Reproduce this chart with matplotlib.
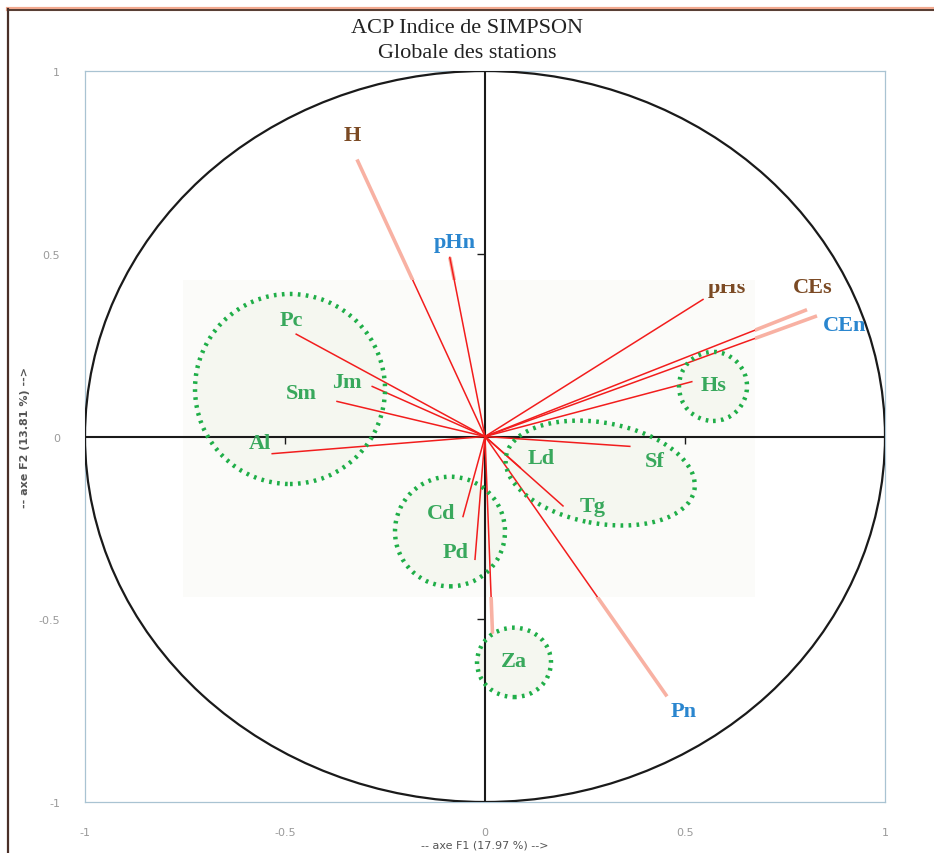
import matplotlib
matplotlib.use("Agg")
import numpy as np
from matplotlib import pyplot as plt
from matplotlib.patches import Ellipse, Rectangle
from matplotlib.lines import Line2D
from matplotlib.transforms import Bbox, TransformedBbox

# correlations of the variables with the first two factors
variables = ["H", "pHn", "pHs", "CEs", "CEn", "Hs", "Pc", "Jm", "Sm", "Al",
             "Ld", "Sf", "Tg", "Cd", "Pd", "Za", "Pn"]
f1 = [-0.32, -0.088, 0.545, 0.805, 0.83, 0.517, -0.472, -0.282, -0.37, -0.532,
      0.088, 0.362, 0.195, -0.055, -0.025, 0.02, 0.455]
f2 = [0.758, 0.49, 0.375, 0.347, 0.33, 0.15, 0.28, 0.137, 0.096, -0.047,
      -0.085, -0.027, -0.19, -0.219, -0.336, -0.575, -0.711]
kind = ["env", "env_n", "env", "env", "env_n", "sp", "sp", "sp", "sp", "sp",
        "sp", "sp", "sp", "sp", "sp", "sp", "env_n"]

# species groups circled on the plot
groups = [["Pc", "Jm", "Sm", "Al"], ["Hs"], ["Ld", "Sf", "Tg"], ["Cd", "Pd"], ["Za"]]

title = "ACP Indice de SIMPSON\nGlobale des stations"
xlabel = "-- axe F1 (17.97 %) -->"
ylabel = "-- axe F2 (13.81 %) -->"
ticks = [-1, -0.5, 0, 0.5, 1]
tick_labels = ["-1", "-0.5", "0", "0.5", "1"]

colors = {"env": "#7b4a24", "env_n": "#2a86cf", "sp": "#38a85c"}

# where each name is written (data units)
label_pos = {
    "H": (-0.333, 0.826), "pHn": (-0.075, 0.531), "pHs": (0.605, 0.394),
    "CEs": (0.82, 0.41), "CEn": (0.90, 0.304), "Hs": (0.5725, 0.14),
    "Pc": (-0.485, 0.32), "Jm": (-0.345, 0.15), "Sm": (-0.46, 0.118),
    "Al": (-0.5625, -0.019), "Ld": (0.14, -0.06), "Sf": (0.425, -0.068),
    "Tg": (0.27, -0.19), "Cd": (-0.11, -0.208), "Pd": (-0.0725, -0.315),
    "Za": (0.0725, -0.613), "Pn": (0.4975, -0.752),
}
# ellipse drawn round each group: centre, width, height, angle
group_shape = [
    ((-0.4875, 0.13), 0.475, 0.52, 0),
    ((0.57, 0.137), 0.17, 0.189, 0),
    ((0.288, -0.10), 0.48, 0.275, -12),
    ((-0.0875, -0.26), 0.275, 0.30, 0),
    ((0.0725, -0.618), 0.185, 0.19, 0),
]

serif = "Liberation Serif"

fig = plt.figure(figsize=(9.34, 8.54), dpi=100)
ax = fig.add_axes([85 / 934, 1 - 803 / 854, 800 / 934, 731 / 854])
ax.set_xlim(-1, 1)
ax.set_ylim(-1, 1)

# light panel in the middle of the plot
panel = Rectangle((-0.755, -0.44), 1.43, 0.867, facecolor="#fbfbf9",
                  edgecolor="none", zorder=2)
ax.add_patch(panel)

# unit circle and axes
ax.add_patch(Ellipse((0, 0), 2, 2, fill=False, edgecolor="#1a1a1a", lw=1.6, zorder=3))
ax.axhline(0, color="#1a1a1a", lw=1.5, zorder=3)
ax.axvline(0, color="#1a1a1a", lw=1.5, zorder=3)
ax.plot([-0.5, 0.5], [0, 0], ls="none", marker=3, ms=5, color="#1a1a1a", zorder=3)
ax.plot([0, 0], [-0.5, 0.5], ls="none", marker=0, ms=6, color="#1a1a1a", zorder=3)

# group ellipses
for (c, w, h, a) in group_shape:
    ax.add_patch(Ellipse(c, w, h, angle=a, facecolor="#f5f7f0", edgecolor="none",
                         zorder=2.5))
    ax.add_patch(Ellipse(c, w, h, angle=a, fill=False, edgecolor="#1fae48",
                         lw=3.2, ls=(0, (0.6, 1.2)), zorder=5))

# vectors: faded outside the panel, sharp red inside
for name, x, y in zip(variables, f1, f2):
    ax.plot([0, x], [0, y], color="#f7a493", lw=2.6, alpha=0.85,
            solid_capstyle="butt", zorder=1)
    ln, = ax.plot([0, x], [0, y], color="#f21d1d", lw=1.1, zorder=4)
    if name != "pHn":
        ln.set_clip_path(panel)

for name, k in zip(variables, kind):
    lx, ly = label_pos[name]
    if name == "pHs":
        t = ax.text(lx, ly, name, color=colors[k], fontsize=16, fontweight="bold",
                    family=serif, ha="center", va="baseline", zorder=6)
        t.set_clip_box(TransformedBbox(Bbox([[0.4, 0.0], [0.9, 0.418]]),
                                       ax.transData))
        t.set_clip_on(True)
    else:
        ax.text(lx, ly, name, color=colors[k], fontsize=16, fontweight="bold",
                family=serif, ha="center", va="center", zorder=6)

ax.set_xticks(ticks)
ax.set_xticklabels(tick_labels)
ax.set_yticks(ticks)
ax.set_yticklabels(tick_labels)
ax.tick_params(length=0, labelsize=8, labelcolor="#9a9a9a", pad=18)
for s in ax.spines.values():
    s.set_color("#a9c3d2")
    s.set_linewidth(0.9)

ax.set_xlabel(xlabel, fontsize=8, color="#555555", labelpad=2)
ax.set_ylabel(ylabel, fontsize=8, color="#555555", labelpad=6, fontweight="bold")
fig.text(0.5, 1 - 41 / 854, title, ha="center", va="center", fontsize=16,
         family=serif, color="#222222", linespacing=1.45)

# outer frame
fig.add_artist(Line2D([8 / 934, 1], [1 - 10 / 854] * 2, color="#f2a98f", lw=3))
fig.add_artist(Line2D([8 / 934, 1], [1 - 11 / 854] * 2, color="#3a2a24", lw=1.2))
fig.add_artist(Line2D([8 / 934] * 2, [0, 1 - 10 / 854], color="#4a3028", lw=1.6))

fig.savefig("out.png", dpi=100)
